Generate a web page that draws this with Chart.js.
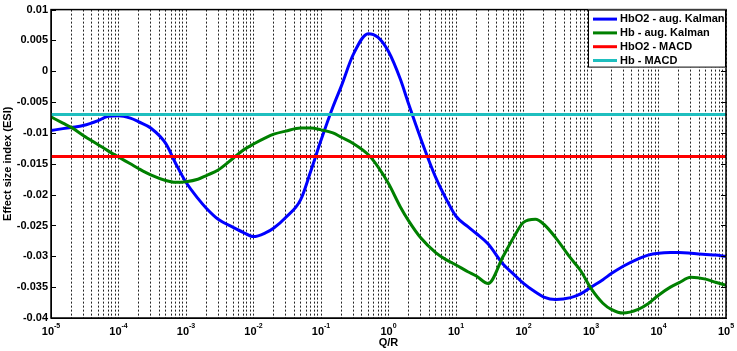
<!DOCTYPE html>
<html>
<head>
<meta charset="utf-8">
<script src="https://cdn.jsdelivr.net/npm/chart.js@4.4.0/dist/chart.umd.min.js"></script>
<style>
  html, body { margin: 0; padding: 0; background: #fff; }
</style>
</head>
<body>
<canvas id="grafico" width="737" height="351"></canvas>
<script>
/* ---------- Datos ---------- */
const qr = [
  1e-5, 1.5e-5, 2e-5, 3e-5, 5e-5, 7e-5,
  1e-4, 1.5e-4, 2e-4, 3e-4, 5e-4, 7e-4,
  1e-3, 1.5e-3, 2e-3, 3e-3, 5e-3, 7e-3,
  1e-2, 1.5e-2, 2e-2, 3e-2, 5e-2, 7e-2,
  0.1, 0.15, 0.2, 0.3, 0.5, 0.7,
  1, 1.5, 2, 3, 5, 7,
  10, 15, 20, 30, 50, 70,
  100, 150, 200, 300, 500, 700,
  1000, 1500, 2000, 3000, 5000, 7000,
  1e4, 1.5e4, 2e4, 3e4, 5e4, 7e4,
  1e5
];

const hbo2Kalman = [
  -0.0096, -0.0093, -0.0091, -0.0088, -0.0080, -0.0073,
  -0.0072, -0.0076, -0.0082, -0.0092, -0.0117, -0.0149,
  -0.0180, -0.0206, -0.0222, -0.0240, -0.0253, -0.0261,
  -0.0268, -0.0262, -0.0254, -0.0237, -0.0208, -0.0163,
  -0.0112, -0.0058, -0.0024, 0.0027, 0.0061, 0.0055,
  0.0032, -0.0013, -0.0054, -0.0109, -0.0172, -0.0205,
  -0.0235, -0.0252, -0.0263, -0.0280, -0.0313, -0.0328,
  -0.0344, -0.0358, -0.0366, -0.0370, -0.0367, -0.0361,
  -0.0350, -0.0338, -0.0328, -0.0316, -0.0304, -0.0298,
  -0.0295, -0.0294, -0.0294, -0.0295, -0.0297, -0.0298,
  -0.0300
];

const hbKalman = [
  -0.0074, -0.0084, -0.0091, -0.0104, -0.0119, -0.0129,
  -0.0139, -0.0150, -0.0158, -0.0168, -0.0177, -0.0180,
  -0.0179, -0.0175, -0.0169, -0.0160, -0.0141, -0.0128,
  -0.0118, -0.0108, -0.0102, -0.0097, -0.0092, -0.0092,
  -0.0095, -0.0100, -0.0107, -0.0117, -0.0135, -0.0155,
  -0.0182, -0.0220, -0.0243, -0.0270, -0.0294, -0.0305,
  -0.0314, -0.0325, -0.0332, -0.0344, -0.0300, -0.0271,
  -0.0245, -0.0240, -0.0248, -0.0270, -0.0303, -0.0323,
  -0.0352, -0.0376, -0.0386, -0.0392, -0.0386, -0.0377,
  -0.0363, -0.0350, -0.0343, -0.0334, -0.0337, -0.0342,
  -0.0347
];

const hbo2Macd = -0.0138;
const hbMacd   = -0.0070;

const etiquetas = ["HbO2 - aug. Kalman", "Hb - aug. Kalman", "HbO2 - MACD", "Hb - MACD"];
const colores   = ["#0000ff", "#008000", "#ff0000", "#1fbfbf"];

const xExponents  = [-5, -4, -3, -2, -1, 0, 1, 2, 3, 4, 5];
const yTicks      = [-0.04, -0.035, -0.03, -0.025, -0.02, -0.015, -0.01, -0.005, 0, 0.005, 0.01];
const yTickLabels = ["-0.04", "-0.035", "-0.03", "-0.025", "-0.02", "-0.015", "-0.01", "-0.005", "0", "0.005", "0.01"];

const FUENTE = '"Liberation Sans", Arial, sans-serif';

// lineas verticales punteadas: 1..9 x 10^e
const gridValues = [];
xExponents.forEach(e => {
  if (e === xExponents[xExponents.length - 1]) { gridValues.push(Math.pow(10, e)); return; }
  for (let m = 1; m <= 9; m++) gridValues.push(m * Math.pow(10, e));
});

/* ---------- Plugin: marco, ticks, etiquetas x, leyenda ---------- */
const marcoPlugin = {
  id: "marco",
  afterDraw(chart) {
    const { ctx, chartArea: a, scales: { x, y } } = chart;
    ctx.save();

    // ticks del eje y hacia dentro (izq. y der.)
    ctx.strokeStyle = "#000";
    ctx.lineWidth = 1;
    yTicks.forEach(v => {
      const py = Math.round(y.getPixelForValue(v)) + 0.5;
      ctx.beginPath();
      ctx.moveTo(a.left, py);  ctx.lineTo(a.left + 5, py);
      ctx.moveTo(a.right, py); ctx.lineTo(a.right - 5, py);
      ctx.stroke();
    });

    // marco
    ctx.lineWidth = 1.5;
    ctx.strokeRect(a.left, a.top, a.right - a.left, a.bottom - a.top);

    // etiquetas x: 10 con exponente
    ctx.fillStyle = "#000";
    ctx.textBaseline = "alphabetic";
    ctx.textAlign = "left";
    xExponents.forEach(e => {
      const px = x.getPixelForValue(Math.pow(10, e));
      const exp = String(e);
      ctx.font = "bold 11px " + FUENTE;
      const wb = ctx.measureText("10").width;
      ctx.font = "bold 7px " + FUENTE;
      const ws = ctx.measureText(exp).width;
      const x0 = px - (wb + ws) / 2;
      ctx.font = "bold 11px " + FUENTE;
      ctx.fillText("10", x0, a.bottom + 17);
      ctx.font = "bold 7px " + FUENTE;
      ctx.fillText(exp, x0 + wb, a.bottom + 10);
    });

    // leyenda
    const lw = 138, lh = 58;
    const lx = a.right - lw, ly = a.top;
    ctx.fillStyle = "#fff";
    ctx.fillRect(lx, ly, lw, lh);
    ctx.lineWidth = 1;
    ctx.strokeStyle = "#000";
    ctx.strokeRect(lx + 0.5, ly + 0.5, lw - 1, lh - 1);
    ctx.font = "bold 11px " + FUENTE;
    ctx.textBaseline = "middle";
    chart.data.datasets.forEach((ds, i) => {
      const cy = ly + 9.5 + i * 13.8;
      ctx.strokeStyle = ds.borderColor;
      ctx.lineWidth = 3;
      ctx.beginPath();
      ctx.moveTo(lx + 5, cy);
      ctx.lineTo(lx + 29, cy);
      ctx.stroke();
      ctx.fillStyle = "#000";
      ctx.fillText(ds.label, lx + 32, cy);
    });

    ctx.restore();
  }
};

/* ---------- Grafico ---------- */
const serie = vals => qr.map((q, i) => ({ x: q, y: vals[i] }));
const horizontal = v => [{ x: qr[0], y: v }, { x: qr[qr.length - 1], y: v }];

const ctx = document.getElementById("grafico").getContext("2d");

new Chart(ctx, {
  type: "line",
  data: {
    datasets: [
      { label: etiquetas[0], data: serie(hbo2Kalman), borderColor: colores[0], order: 4 },
      { label: etiquetas[1], data: serie(hbKalman),   borderColor: colores[1], order: 3 },
      { label: etiquetas[2], data: horizontal(hbo2Macd), borderColor: colores[2], order: 2 },
      { label: etiquetas[3], data: horizontal(hbMacd),   borderColor: colores[3], order: 1 }
    ]
  },
  options: {
    responsive: false,
    animation: false,
    devicePixelRatio: 1,
    layout: { padding: { top: 7, right: 11, left: 0, bottom: 0 } },
    elements: {
      point: { radius: 0 },
      line: { borderWidth: 3, cubicInterpolationMode: "monotone", fill: false }
    },
    plugins: {
      legend: { display: false },
      tooltip: { enabled: false }
    },
    scales: {
      x: {
        type: "logarithmic",
        min: 1e-5,
        max: 1e5,
        afterBuildTicks: s => { s.ticks = gridValues.map(v => ({ value: v })); },
        afterFit: s => { s.height = 33; },
        grid: { display: true, drawTicks: false, color: "#222", lineWidth: 1 },
        border: { display: true, color: "#000", dash: [2, 2] },
        ticks: { display: false },
        title: {
          display: true, text: "Q/R", color: "#000",
          font: { family: FUENTE, size: 11, weight: "bold" },
          padding: { top: 0, bottom: 1 }
        }
      },
      y: {
        min: -0.04,
        max: 0.01,
        afterBuildTicks: s => { s.ticks = yTicks.map(v => ({ value: v })); },
        afterFit: s => { s.width = 51; },
        grid: { display: false, drawTicks: false },
        border: { display: true, color: "#000" },
        ticks: {
          color: "#000",
          padding: 3,
          font: { family: FUENTE, size: 11, weight: "bold" },
          callback: (v, i) => yTickLabels[i]
        },
        title: {
          display: true, text: "Effect size index (ESI)", color: "#000",
          font: { family: FUENTE, size: 11, weight: "bold" },
          padding: { top: 1, bottom: 0 }
        }
      }
    }
  },
  plugins: [marcoPlugin]
});
</script>
</body>
</html>
